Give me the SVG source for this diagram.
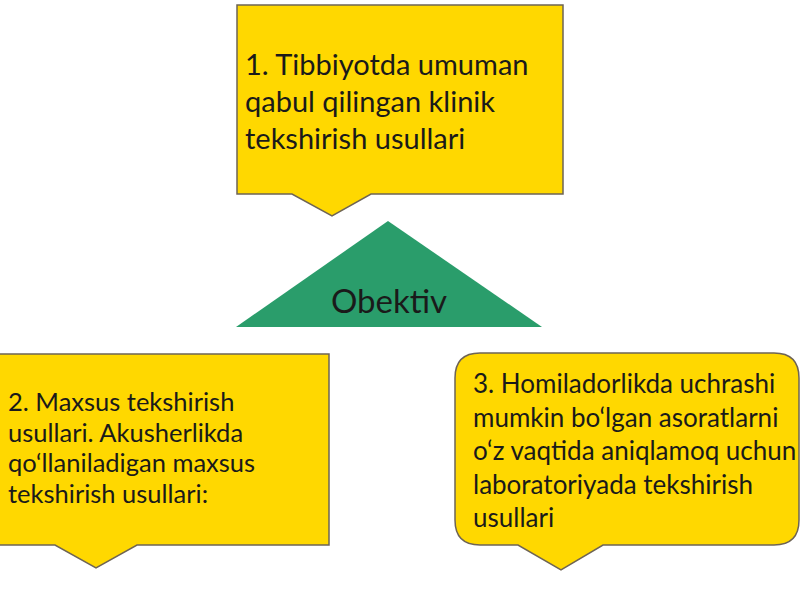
<svg xmlns="http://www.w3.org/2000/svg" width="800" height="600" viewBox="0 0 800 600">
<style>
.call{fill:#FFD800;stroke:#6E6455;stroke-width:1.5}
.t{font-family:Lato,"Carlito","Liberation Sans",sans-serif;fill:#1a1a1a}
</style>
<rect width="800" height="600" fill="#ffffff"/>
<g id="node1">
<path class="call" d="M237,5 H563 V194 H371 L332,216 L292,194 H237 Z"/>
<text class="t" font-size="29" x="245" y="75">1. Tibbiyotda umuman</text>
<text class="t" font-size="29" x="245" y="112">qabul qilingan klinik</text>
<text class="t" font-size="29" x="245" y="149">tekshirish usullari</text>
</g>
<g id="node-obektiv">
<polygon points="388,221 542,327 236,327" fill="#2A9D6B"/>
<text class="t" font-size="33" x="389" y="313" text-anchor="middle">Obektiv</text>
</g>
<g id="node2">
<path class="call" d="M-1,354 H329 V545 H137 L96,568 L55,545 H-1 Z"/>
<text class="t" font-size="25.5" x="8" y="411">2. Maxsus tekshirish</text>
<text class="t" font-size="25.5" x="8" y="442">usullari. Akusherlikda</text>
<text class="t" font-size="25.5" x="8" y="472">qo‘llaniladigan maxsus</text>
<text class="t" font-size="25.5" x="8" y="503">tekshirish usullari:</text>
</g>
<g id="node3">
<path class="call" d="M480,353 H774 Q799,353 799,378 V520 Q799,545 774,545 H603 L561,570 L518,545 H480 Q455,545 455,520 V378 Q455,353 480,353 Z"/>
<text class="t" font-size="26" x="473" y="393">3. Homiladorlikda uchrashi</text>
<text class="t" font-size="26" x="473" y="427">mumkin bo‘lgan asoratlarni</text>
<text class="t" font-size="26" x="473" y="460">o‘z vaqtida aniqlamoq uchun</text>
<text class="t" font-size="26" x="473" y="494">laboratoriyada tekshirish</text>
<text class="t" font-size="26" x="473" y="527">usullari</text>
</g>
<g id="connectors"></g>
</svg>
